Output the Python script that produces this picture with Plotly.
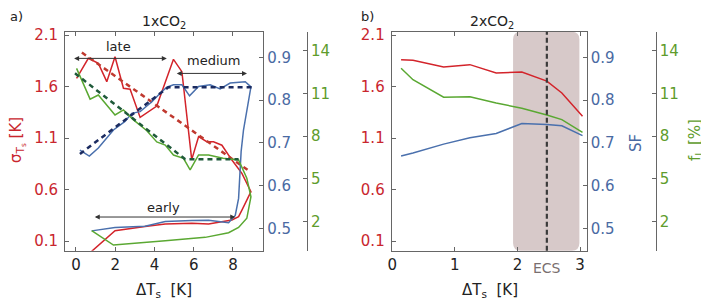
import plotly.graph_objects as go

# page body has an 8px default margin; figure sized to fill the rest of the window
OFF = 8
W, H = 709 - OFF, 303 - OFF

# ---------------- Data: panel a (1xCO2) ----------------
a_red_x = [0.80, 1.99, 3.52, 4.55, 5.91, 6.76, 7.95, 8.29, 8.46, 8.92,
           8.46, 7.95, 7.44, 7.01, 6.67, 6.25, 5.90, 5.40, 4.97, 4.12,
           3.27, 2.76, 2.42, 1.99, 1.57, 1.14, 0.63, 0.03]
a_red_y = [0.00, 0.20, 0.24, 0.265, 0.272, 0.265, 0.304, 0.336, 0.40, 0.579,
           0.757, 0.886, 1.03, 1.064, 1.064, 1.113, 0.89, 1.744, 1.864, 1.41,
           1.30, 1.573, 1.583, 1.889, 1.647, 1.825, 1.874, 1.68]

a_blue_x = [0.80, 1.99, 3.52, 4.55, 5.91, 6.76, 7.78, 8.12, 8.29, 8.42, 8.54, 8.71, 8.92,
            8.63, 8.38, 7.86, 7.35, 6.84, 6.25, 5.79, 5.40, 4.97, 4.63,
            4.29, 3.87, 3.27, 2.84, 2.50, 1.91, 1.14, 0.68, 0.20]
a_blue_y = [0.494, 0.502, 0.505, 0.516, 0.518, 0.519, 0.513, 0.53, 0.57, 0.68, 0.73, 0.778, 0.831,
            0.843, 0.842, 0.840, 0.826, 0.836, 0.832, 0.810, 0.836, 0.836, 0.830,
            0.816, 0.796, 0.773, 0.769, 0.750, 0.730, 0.688, 0.669, 0.683]

a_green_x = [0.80, 1.91, 4.55, 6.59, 7.78, 8.29, 8.71, 8.92, 8.71, 8.29,
             7.50, 6.76, 6.25, 5.82, 5.48, 4.97, 4.55, 4.12, 3.60, 2.93,
             2.42, 1.99, 1.14, 0.72, 0.03]
a_green_y = [1.37, 0.36, 0.67, 0.90, 1.23, 1.60, 2.24, 3.75, 5.05, 6.33,
             6.45, 6.68, 6.68, 5.63, 6.45, 6.68, 7.38, 7.60, 8.40, 9.14,
             9.84, 9.49, 10.89, 10.60, 12.76]

# regression (dashed) lines, panel a
a_red_fit_x = [0.30, 8.90]
a_red_fit_y = [1.93, 0.77]
a_blue_fit_x = [0.20, 4.71, 8.97]
a_blue_fit_y = [0.674, 0.830, 0.830]
a_green_fit_x = [-0.05, 5.57, 8.29]
a_green_fit_y = [12.41, 6.38, 6.38]

# phase arrows (x start, x end, y on sigma axis) and labels
phase_names = ["late", "medium", "early"]
phase_x0 = [-0.17, 5.06, 0.88]
phase_x1 = [4.63, 8.72, 8.12]
phase_y = [1.873, 1.727, 0.333]
phase_label_x = [2.16, 7.01, 4.46]
phase_label_y = [1.986, 1.857, 0.43]

# ---------------- Data: panel b (2xCO2) ----------------
b_x = [0.14, 0.33, 0.82, 1.24, 1.66, 2.07, 2.47, 2.71, 3.04]
b_red = [1.860, 1.854, 1.789, 1.812, 1.731, 1.741, 1.653, 1.537, 1.311]
b_blue = [0.669, 0.676, 0.697, 0.712, 0.722, 0.745, 0.743, 0.740, 0.717]
b_green = [12.76, 11.96, 10.73, 10.77, 10.33, 9.96, 9.49, 9.16, 8.27]
ecs_x = 2.47
shade_x = [1.93, 2.99]

# ---------------- Axes / ticks ----------------
red_ticks = [0.1, 0.6, 1.1, 1.6, 2.1]
blue_ticks = [0.5, 0.6, 0.7, 0.8, 0.9]
green_ticks = [2, 5, 8, 11, 14]
a_xticks = [0, 2, 4, 6, 8]
b_xticks = [0, 1, 2, 3]

red_range = [0.006, 2.132]
blue_range = [0.4476, 0.960]
green_range = [-0.035, 15.33]

RED = "#d3242b"
BLUE = "#4a70ad"
GREEN = "#5aa832"
RED_T = "#c9262e"
BLUE_T = "#4a6aa3"
GREEN_T = "#5e9c2c"
SPINE = "#666666"
FONT = "DejaVu Sans"

fig = go.Figure()

def line(x, y, xa, ya, color, width=1.5, dash=None):
    fig.add_trace(go.Scatter(x=x, y=y, xaxis=xa, yaxis=ya, mode="lines",
                             line=dict(color=color, width=width, dash=dash),
                             showlegend=False, hoverinfo="skip"))

# panel a
line(a_red_x, a_red_y, "x", "y", RED)
line(a_blue_x, a_blue_y, "x", "y2", BLUE)
line(a_green_x, a_green_y, "x", "y3", GREEN)
line(a_red_fit_x, a_red_fit_y, "x", "y", "#c0392f", 2.5, "5px,4px")
line(a_blue_fit_x, a_blue_fit_y, "x", "y2", "#1b2b60", 2.5, "5px,4px")
line(a_green_fit_x, a_green_fit_y, "x", "y3", "#1f5a3a", 2.5, "5px,4px")

# panel b
line(b_x, b_red, "x2", "y4", RED)
line(b_x, b_blue, "x2", "y5", BLUE)
line(b_x, b_green, "x2", "y6", GREEN)

def px_x(p):
    return (p - OFF) / W

def px_y(p):
    return 1 - (p - OFF) / H

dom_a = [px_x(65), px_x(263.3)]
dom_b = [px_x(391.7), px_x(586.7)]
dom_y = [px_y(250.7), px_y(31.7)]

def xaxis(domain, rng, ticks, anchor):
    return dict(domain=domain, range=rng, tickvals=ticks, anchor=anchor,
                showline=True, linecolor=SPINE, linewidth=1, mirror="ticks",
                ticks="inside", ticklen=4, tickcolor=SPINE, showgrid=False,
                zeroline=False, tickfont=dict(family=FONT, size=15, color="#222"),
                ticklabelstandoff=0, automargin=False)

def yaxis(rng, ticks, color, side, anchor, overlaying=None, position=None, standoff=0):
    d = dict(range=rng, tickvals=ticks, side=side, anchor=anchor,
             showline=True, linecolor=SPINE, linewidth=1,
             ticks="inside", ticklen=4, tickcolor=SPINE, showgrid=False,
             zeroline=False, tickfont=dict(family=FONT, size=15, color=color),
             ticklabelstandoff=standoff, domain=dom_y, automargin=False)
    if overlaying:
        d["overlaying"] = overlaying
    if position is not None:
        d["position"] = position
    return d

fig.update_layout(
    width=W, height=H,
    margin=dict(l=0, r=0, t=0, b=0, pad=0, autoexpand=False),
    paper_bgcolor="white", plot_bgcolor="white",
    font=dict(family=FONT),
    xaxis=xaxis(dom_a, [-0.56, 9.55], a_xticks, "y"),
    xaxis2=xaxis(dom_b, [-0.01, 3.107], b_xticks, "y4"),
    yaxis=yaxis(red_range, red_ticks, RED_T, "left", "x", standoff=3),
    yaxis2=yaxis(blue_range, blue_ticks, BLUE_T, "right", "x", overlaying="y"),
    yaxis3=yaxis(green_range, green_ticks, GREEN_T, "right", "free", overlaying="y",
                 position=px_x(307)),
    yaxis4=yaxis(red_range, red_ticks, RED_T, "left", "x2", standoff=3),
    yaxis5=yaxis(blue_range, blue_ticks, BLUE_T, "right", "x2", overlaying="y4"),
    yaxis6=yaxis(green_range, green_ticks, GREEN_T, "right", "free", overlaying="y4",
                 position=px_x(655.7)),
)

# shaded region with rounded corners (panel b)
rx = 0.12
ry = 0.035
x0, x1 = shade_x
path = (f"M {x0 + rx},0 L {x1 - rx},0 Q {x1},0 {x1},{ry} "
        f"L {x1},{1 - ry} Q {x1},1 {x1 - rx},1 L {x0 + rx},1 Q {x0},1 {x0},{1 - ry} "
        f"L {x0},{ry} Q {x0},0 {x0 + rx},0 Z")
fig.add_shape(type="path", path=path, xref="x2", yref="y4 domain",
              fillcolor="rgb(215,201,201)", line=dict(width=0), layer="below")
fig.add_shape(type="line", x0=ecs_x, x1=ecs_x, y0=0, y1=1, xref="x2", yref="y4 domain",
              line=dict(color="#3a3a3a", width=2.2, dash="5px,3px"))

ann = []
# phase arrows
for name, xa0, xa1, yy, lx, ly in zip(phase_names, phase_x0, phase_x1, phase_y,
                                     phase_label_x, phase_label_y):
    ann.append(dict(x=xa1, y=yy, ax=xa0, ay=yy, xref="x", yref="y", axref="x", ayref="y",
                    text="", showarrow=True, arrowhead=2, arrowside="end+start",
                    arrowsize=1, arrowwidth=1, arrowcolor="#333"))
    ann.append(dict(x=lx, y=ly, xref="x", yref="y", text=name, showarrow=False,
                    xanchor="center", yanchor="middle",
                    font=dict(family=FONT, size=13, color="#222")))

# ECS label
ann.append(dict(x=ecs_x, y=px_y(268), xref="x2", yref="paper", text="ECS", showarrow=False,
                xanchor="center", yanchor="middle",
                font=dict(family=FONT, size=14, color="#7a6f6f")))

def txt(t, xp, yp, color="#222", size=15, angle=0):
    ann.append(dict(x=px_x(xp), y=px_y(yp), xref="paper", yref="paper", text=t,
                    showarrow=False, textangle=angle, xanchor="center", yanchor="middle",
                    font=dict(family=FONT, size=size, color=color)))

txt("a)", 16, 17, size=13)
txt("b)", 367, 17, size=13)
txt("1xCO<sub>2</sub>", 164, 22, size=14)
txt("2xCO<sub>2</sub>", 492, 22, size=14)
txt("ΔT<sub>s</sub>  [K]", 164, 290, size=15)
txt("ΔT<sub>s</sub>  [K]", 490, 290, size=15)
txt("σ<sub>T<sub>s</sub></sub> [K]", 17, 140, color=RED_T, size=15, angle=-90)
txt("SF", 636, 143, color=BLUE_T, size=15, angle=-90)
txt("f<sub>L</sub> [%]", 695, 140, color=GREEN_T, size=15, angle=-90)

fig.update_layout(annotations=ann)
fig.write_html("out.html")
